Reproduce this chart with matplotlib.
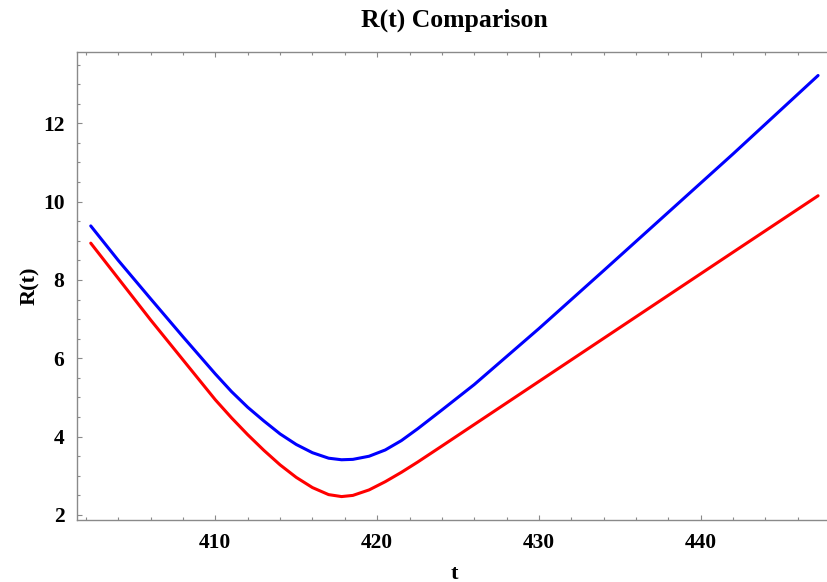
import matplotlib
matplotlib.use("Agg")
import matplotlib.pyplot as plt
from matplotlib.ticker import MultipleLocator

t = [402.3, 404, 406, 408, 410, 411, 412, 413, 414, 415, 416, 417, 417.8,
     418.5, 419.5, 420.5, 421.5, 422.5, 424, 426, 430, 434, 438, 442, 447.25]
r_blue = [9.38, 8.50, 7.52, 6.55, 5.60, 5.15, 4.75, 4.40, 4.07, 3.80, 3.59, 3.45, 3.41,
          3.42, 3.50, 3.66, 3.90, 4.20, 4.68, 5.33, 6.76, 8.24, 9.73, 11.22, 13.22]
r_red = [8.94, 8.04, 6.98, 5.96, 4.94, 4.48, 4.05, 3.65, 3.28, 2.96, 2.70, 2.52, 2.47,
         2.50, 2.64, 2.85, 3.09, 3.35, 3.76, 4.31, 5.41, 6.51, 7.61, 8.71, 10.15]

x_major = [410, 420, 430, 440]
y_major = [2, 4, 6, 8, 10, 12]

plt.rcParams['font.family'] = ['Liberation Serif', 'DejaVu Serif']
plt.rcParams['font.weight'] = 'bold'

fig = plt.figure(figsize=(8.28, 5.82), dpi=100)
ax = fig.add_axes([77 / 828, 62 / 582, (832 - 77) / 828, (520 - 52) / 582])

ax.plot(t, r_blue, color=(0, 0, 1), lw=2.2, solid_capstyle='round', solid_joinstyle='round')
ax.plot(t, r_red, color=(1, 0, 0), lw=2.2, solid_capstyle='round', solid_joinstyle='round')

ax.set_xlim(401.45, 448.11)
ax.set_ylim(1.872, 13.82)
ax.set_xticks(x_major)
ax.set_yticks(y_major)
ax.xaxis.set_minor_locator(MultipleLocator(2))
ax.yaxis.set_minor_locator(MultipleLocator(0.5))

gray = '#8a8a8a'
for s in ax.spines.values():
    s.set_color(gray)
    s.set_linewidth(1.0)
ax.tick_params(which='both', direction='in', top=True, right=True, color=gray,
               width=0.8, labelsize=15.5, labelcolor='black')
ax.tick_params(which='major', length=3.8, pad=9)
ax.tick_params(which='minor', length=2.0)
for lab in ax.get_xticklabels() + ax.get_yticklabels():
    lab.set_fontweight('bold')

ax.set_xlabel('t', fontsize=16, fontweight='bold', labelpad=8)
ax.set_ylabel('R(t)', fontsize=16, fontweight='bold', labelpad=2)
fig.text(454 / 828, 1 - 20 / 582, 'R(t) Comparison', fontsize=18.5, fontweight='bold',
         ha='center', va='center')

fig.savefig('out.png', dpi=100)
